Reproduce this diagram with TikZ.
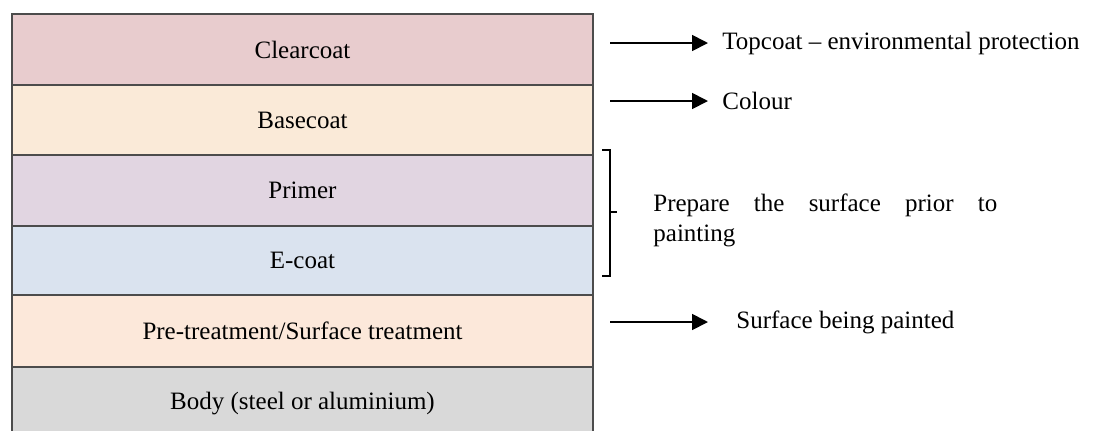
\documentclass[tikz,border=0pt]{standalone}
\usepackage{fontspec}
\setmainfont{Liberation Serif}
\usetikzlibrary{fit}
\usetikzlibrary{arrows.meta}

\definecolor{clearcol}{HTML}{E8CCCE}
\definecolor{basecol}{HTML}{FAEAD8}
\definecolor{primercol}{HTML}{E1D5E1}
\definecolor{ecoatcol}{HTML}{DAE3EF}
\definecolor{pretreatcol}{HTML}{FCE8DA}
\definecolor{bodycol}{HTML}{D9D9D9}

\begin{document}
\begin{tikzpicture}[x=0.5pt, y=-0.5pt,
  font=\fontsize{12.5}{15}\selectfont,
  layer/.style={draw=black!70, line width=0.9pt, rectangle, inner sep=0pt, outer sep=0pt},
  note/.style={anchor=west, inner sep=0pt},
  arr/.style={line width=0.9pt, -{Triangle[length=8pt,width=8pt]}},
]
\useasboundingbox (0,0) rectangle (1109,430);
\clip (0,0) rectangle (1109,430);

\node (clear) [layer, fill=clearcol, fit={(12,14) (593,85)}, label=center:{Clearcoat}] {};
\node (base) [layer, fill=basecol, fit={(12,85) (593,155)}, label=center:{Basecoat}] {};
\node (primer) [layer, fill=primercol, fit={(12,155) (593,226)}, label=center:{Primer}] {};
\node (ecoat) [layer, fill=ecoatcol, fit={(12,226) (593,295)}, label=center:{E-coat}] {};
\node (pretreat) [layer, fill=pretreatcol, fit={(12,295) (593,367)}, label=center:{Pre-treatment/Surface treatment}] {};
\node (body) [layer, fill=bodycol, fit={(12,367) (593,440)}, label=center:{Body (steel or aluminium)}] {};

\coordinate (topstart) at (610,43);
\coordinate (colstart) at (610,101);
\coordinate (surfstart) at (610,322);

\node (topnote) [note] at (722,43) {Topcoat -- environmental protection};
\node (colnote) [note] at (722,101) {Colour};
\node (surfnote) [note] at (736,322) {Surface being painted};
\node (prepnote) [note, text width=172pt, align=justify] at (653,220) {Prepare the surface prior to\linebreak painting};

\draw[arr, shorten >=7pt] (topstart) -- (topnote.west);
\draw[arr, shorten >=7pt] (colstart) -- (colnote.west);
\draw[arr, shorten >=14pt] (surfstart) -- (surfnote.west);

% bracket round primer and e-coat
\draw[line width=0.9pt]
  (602,150) -- (610,150) -- (610,276) -- (602,276)
  (610,212) -- (617,212);

\end{tikzpicture}
\end{document}
